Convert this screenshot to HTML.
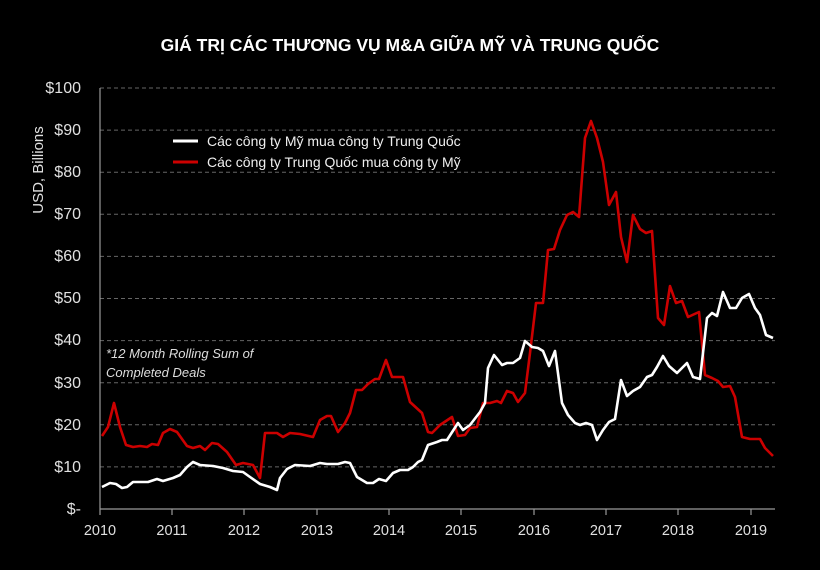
<!DOCTYPE html>
<html><head><meta charset="utf-8"><style>
html,body{margin:0;padding:0;background:#000;}
svg{display:block;font-family:"Liberation Sans","DejaVu Sans",sans-serif;}
</style></head><body>
<svg width="820" height="570" viewBox="0 0 820 570" xmlns="http://www.w3.org/2000/svg">
<rect width="820" height="570" fill="#000"/>
<text x="410" y="51" text-anchor="middle" fill="#fff" font-size="17.5" font-weight="bold">GIÁ TRỊ CÁC THƯƠNG VỤ M&amp;A GIỮA MỸ VÀ TRUNG QUỐC</text>
<g stroke="#666" stroke-width="1" stroke-dasharray="4,3">
<line x1="100" x2="775" y1="88" y2="88"/><line x1="100" x2="775" y1="130.1" y2="130.1"/>
<line x1="100" x2="775" y1="172.2" y2="172.2"/><line x1="100" x2="775" y1="214.3" y2="214.3"/>
<line x1="100" x2="775" y1="256.4" y2="256.4"/><line x1="100" x2="775" y1="298.5" y2="298.5"/>
<line x1="100" x2="775" y1="340.6" y2="340.6"/><line x1="100" x2="775" y1="382.7" y2="382.7"/>
<line x1="100" x2="775" y1="424.8" y2="424.8"/><line x1="100" x2="775" y1="466.9" y2="466.9"/>
</g>
<g stroke="#999" stroke-width="1.2">
<line x1="100" x2="100" y1="88" y2="509"/>
<line x1="100" x2="775" y1="509" y2="509"/>
<line x1="100" x2="100" y1="509" y2="515"/><line x1="172" x2="172" y1="509" y2="515"/>
<line x1="244" x2="244" y1="509" y2="515"/><line x1="317" x2="317" y1="509" y2="515"/>
<line x1="389" x2="389" y1="509" y2="515"/><line x1="461" x2="461" y1="509" y2="515"/>
<line x1="534" x2="534" y1="509" y2="515"/><line x1="606" x2="606" y1="509" y2="515"/>
<line x1="678" x2="678" y1="509" y2="515"/><line x1="751" x2="751" y1="509" y2="515"/>
</g>
<g fill="#e0e0e0" font-size="16" text-anchor="end">
<text x="81" y="93">$100</text><text x="81" y="135">$90</text><text x="81" y="177">$80</text>
<text x="81" y="219">$70</text><text x="81" y="261">$60</text><text x="81" y="303">$50</text>
<text x="81" y="345">$40</text><text x="81" y="388">$30</text><text x="81" y="430">$20</text>
<text x="81" y="472">$10</text><text x="81" y="514">$-</text>
</g>
<text transform="translate(43,170) rotate(-90)" text-anchor="middle" fill="#e0e0e0" font-size="15">USD, Billions</text>
<g fill="#e0e0e0" font-size="14.5" text-anchor="middle">
<text x="100" y="535">2010</text><text x="172" y="535">2011</text><text x="244" y="535">2012</text>
<text x="317" y="535">2013</text><text x="389" y="535">2014</text><text x="461" y="535">2015</text>
<text x="534" y="535">2016</text><text x="606" y="535">2017</text><text x="678" y="535">2018</text>
<text x="751" y="535">2019</text>
</g>
<line x1="173" x2="198" y1="141" y2="141" stroke="#fff" stroke-width="3"/>
<line x1="173" x2="198" y1="162" y2="162" stroke="#c00" stroke-width="3"/>
<text x="207" y="146" fill="#eee" font-size="14">Các công ty Mỹ mua công ty Trung Quốc</text>
<text x="207" y="167" fill="#eee" font-size="14">Các công ty Trung Quốc mua công ty Mỹ</text>
<text x="106" y="358" fill="#ddd" font-size="13" font-style="italic">*12 Month Rolling Sum of</text>
<text x="106" y="377" fill="#ddd" font-size="13" font-style="italic">Completed Deals</text>
<polyline fill="none" stroke="#c00" stroke-width="2.6" stroke-linejoin="round" points="102,436 108,427 114,403 120,427 126,445 133,447 140,446 147,447 152,444 158,445 163,433 170,429 177,432 187,446 193,448 200,446 205,450 212,443 218,444 227,452 236,465 243,463 253,465 260,478 265,433 277,433 283,437 290,433 300,434 313,437 320,420 327,416 331,416 338,432 345,423 350,413 356,390 362,390 368,384 375,379 379,379 386,360 392,377 403,377 410,402 422,413 428,432 432,433 440,425 452,417 458,436 465,435 470,428 477,427 483,403 490,403 497,401 501,403 507,391 513,393 518,402 525,393 530,353 536,303 543,303 548,250 554,249 560,230 567,215 573,212 579,217 585,138 591,121 597,138 603,162 609,205 616,192 621,237 627,262 633,215 640,229 646,233 652,231 658,318 664,325 670,286 676,303 682,301 688,317 699,312 705,375 712,378 718,381 723,387 730,386 735,397 742,437 750,439 760,439 765,448 773,456"/>
<polyline fill="none" stroke="#fff" stroke-width="2.6" stroke-linejoin="round" points="102,487 110,483 116,484 122,488 127,487 133,482 140,482 148,482 157,479 163,481 173,478 180,475 187,467 193,462 200,465 213,466 223,468 233,471 243,472 250,477 260,484 270,487 277,490 280,478 287,469 295,465 310,466 320,463 327,464 338,464 345,462 350,463 357,477 367,483 373,483 379,479 386,481 393,473 400,470 408,470 413,467 418,462 422,460 428,445 437,442 442,440 447,440 458,423 463,430 470,425 480,412 485,403 488,368 494,355 502,365 507,363 513,363 520,358 525,341 532,347 538,348 543,351 549,366 555,351 562,403 568,415 575,423 580,425 586,423 592,425 597,440 603,430 609,422 615,419 621,380 627,396 633,391 640,387 647,377 652,375 657,367 663,356 669,366 677,373 687,363 693,377 700,379 707,318 712,313 717,316 723,292 730,308 736,308 742,298 749,294 755,308 760,315 766,335 773,338"/>
</svg>
</body></html>
